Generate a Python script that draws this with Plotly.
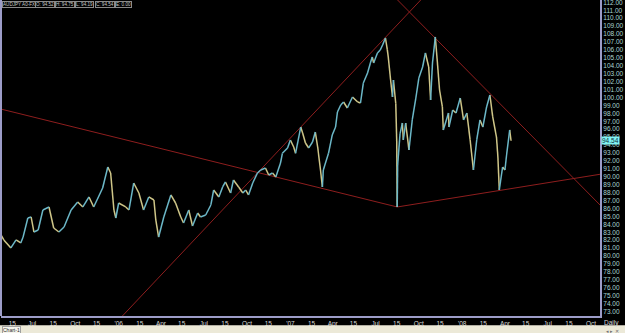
import plotly.graph_objects as go

# ---------------- data ----------------
dates = [
    "2005-04-26", "2005-05-02", "2005-05-17", "2005-05-28", "2005-06-07", "2005-06-12",
    "2005-06-22", "2005-06-29", "2005-07-05", "2005-07-14", "2005-07-24", "2005-08-06",
    "2005-08-16", "2005-08-27", "2005-09-07", "2005-09-22", "2005-10-06", "2005-10-17",
    "2005-10-30", "2005-11-09", "2005-11-28", "2005-12-09", "2005-12-15", "2005-12-22",
    "2005-12-26", "2006-01-01", "2006-01-16", "2006-01-23", "2006-02-02", "2006-02-13",
    "2006-02-23", "2006-03-06", "2006-03-17", "2006-03-21", "2006-03-27", "2006-04-07",
    "2006-04-22", "2006-05-02", "2006-05-13", "2006-05-19", "2006-05-30", "2006-06-07",
    "2006-06-18", "2006-06-24", "2006-07-05", "2006-07-16", "2006-07-22", "2006-08-02",
    "2006-08-10", "2006-08-16", "2006-08-27", "2006-09-02", "2006-09-13", "2006-09-22",
    "2006-09-28", "2006-10-04", "2006-10-13", "2006-10-23", "2006-10-30", "2006-11-09",
    "2006-11-16", "2006-11-24", "2006-12-01", "2006-12-11", "2006-12-15", "2006-12-26",
    "2007-01-01", "2007-01-08", "2007-01-12", "2007-01-23", "2007-01-27", "2007-02-02",
    "2007-02-09", "2007-02-17", "2007-02-23", "2007-02-28", "2007-03-06", "2007-03-10",
    "2007-03-12", "2007-03-23", "2007-03-31", "2007-04-07", "2007-04-11", "2007-04-18",
    "2007-04-24", "2007-05-02", "2007-05-13", "2007-05-24", "2007-05-30", "2007-06-05",
    "2007-06-14", "2007-06-20", "2007-06-24", "2007-06-27", "2007-07-05", "2007-07-11",
    "2007-07-16", "2007-07-22", "2007-07-26", "2007-07-28", "2007-08-02", "2007-08-06",
    "2007-08-08", "2007-08-13", "2007-08-15", "2007-08-16", "2007-08-17", "2007-08-22",
    "2007-08-27", "2007-08-29", "2007-09-03", "2007-09-10", "2007-09-17", "2007-09-24",
    "2007-10-01", "2007-10-09", "2007-10-15", "2007-10-22", "2007-10-26", "2007-10-30",
    "2007-11-05", "2007-11-09", "2007-11-14", "2007-11-20", "2007-11-22", "2007-12-03",
    "2007-12-04", "2007-12-12", "2007-12-19", "2007-12-28", "2008-01-04", "2008-01-11",
    "2008-01-18", "2008-01-25", "2008-02-01", "2008-02-08", "2008-02-14", "2008-02-22",
    "2008-02-29", "2008-03-06", "2008-03-14", "2008-03-17", "2008-03-20", "2008-03-27",
    "2008-04-01", "2008-04-04", "2008-04-11", "2008-04-14",
]
closes = [
    82.66, 82.03, 81.02, 82.03, 81.65, 82.40,
    84.80, 84.93, 83.03, 83.29, 85.81, 86.19,
    83.54, 83.03, 83.66, 85.81, 86.82, 86.19,
    87.45, 86.19, 88.58, 91.23, 90.47, 85.81,
    84.80, 86.69, 86.19, 85.81, 89.21, 87.95,
    85.81, 87.45, 87.07, 84.55, 82.40, 84.93,
    87.70, 86.69, 84.93, 84.17, 85.81, 83.79,
    85.43, 84.93, 85.18, 86.44, 88.33, 87.45,
    88.71, 89.34, 87.95, 89.59, 88.71, 87.95,
    88.33, 87.70, 89.21, 90.47, 90.85, 91.10,
    90.22, 90.47, 89.97, 91.73, 92.96, 93.63,
    94.64, 93.75, 92.96, 96.27, 95.52, 94.26,
    93.63, 94.38, 95.64, 93.75, 90.85, 88.71,
    90.85, 92.96, 95.27, 96.27, 98.17, 99.05,
    99.43, 98.67, 100.06, 99.43, 99.30, 101.82,
    103.08, 104.35, 105.10, 104.35, 105.61, 105.99,
    106.62, 107.50, 105.99, 105.10, 102.20, 100.06,
    102.20, 99.20, 94.50, 86.19, 91.50, 95.40,
    96.78, 94.64, 96.78, 93.37, 97.16, 99.68,
    102.45, 103.84, 105.61, 103.84, 99.68, 104.35,
    107.63, 104.72, 100.94, 98.80, 95.90, 98.04,
    96.27, 98.42, 98.04, 99.93, 97.16, 98.04,
    94.64, 90.85, 94.64, 97.16, 96.27, 98.80,
    100.31, 97.54, 95.01, 92.49, 88.33, 91.23,
    90.85, 92.49, 95.90, 94.54,
]

# trend lines (date, price) end points
trend_left_x = ["2005-04-01", "2007-08-16"]
trend_left_y = [98.90, 86.19]
trend_right_x = ["2007-08-16", "2008-11-15"]
trend_right_y = [86.19, 90.56]
trend_up_x = ["2005-12-01", "2007-10-15"]
trend_up_y = [69.99, 112.92]
trend_down_x = ["2007-08-10", "2008-11-10"]
trend_down_y = [112.70, 85.18]

# axis ticks
x_tickvals = [
    "2005-05-20", "2005-07-01", "2005-08-15", "2005-10-01", "2005-11-15",
    "2006-01-01", "2006-02-15", "2006-04-01", "2006-05-15", "2006-07-01", "2006-08-15", "2006-10-01", "2006-11-15",
    "2007-01-01", "2007-02-15", "2007-04-01", "2007-05-15", "2007-07-01", "2007-08-15", "2007-10-01", "2007-11-15",
    "2008-01-01", "2008-02-15", "2008-04-01", "2008-05-15", "2008-07-01", "2008-08-15", "2008-10-01",
]
x_ticktext = [
    "15", "Jul", "15", "Oct", "15",
    "'06", "15", "Apr", "15", "Jul", "15", "Oct", "15",
    "'07", "15", "Apr", "15", "Jul", "15", "Oct", "15",
    "'08", "15", "Apr", "15", "Jul", "15", "Oct",
]
y_tickvals = list(range(73, 113))
y_ticktext = [f"{v:.2f}" for v in y_tickvals]

last_price = 94.54
header_texts = ["AUDJPY A0-FX", "O: 94.52", "H: 94.75", "L: 94.19", "C: 94.54", "E: 0.00"]
header_px = [2, 35, 55, 75, 95, 115]

# ---------------- styles ----------------
UP = "#6cb8c8"
DOWN = "#cfc688"
TREND = "#8e1e1e"
FRAME = "#9c9cc8"
FONT = "Liberation Sans"
PLOT_L, PLOT_W = 1, 599

fig = go.Figure()

# split series into up / down segments
ux, uy, dx, dy = [], [], [], []
for i in range(len(closes) - 1):
    if closes[i + 1] >= closes[i]:
        ux += [dates[i], dates[i + 1], None]
        uy += [closes[i], closes[i + 1], None]
    else:
        dx += [dates[i], dates[i + 1], None]
        dy += [closes[i], closes[i + 1], None]

for tx, ty in [(trend_left_x, trend_left_y), (trend_right_x, trend_right_y),
               (trend_up_x, trend_up_y), (trend_down_x, trend_down_y)]:
    fig.add_trace(go.Scatter(x=tx, y=ty, mode="lines",
                             line=dict(color=TREND, width=1), hoverinfo="skip"))

fig.add_trace(go.Scatter(x=dx, y=dy, mode="lines", line=dict(color=DOWN, width=1.5)))
fig.add_trace(go.Scatter(x=ux, y=uy, mode="lines", line=dict(color=UP, width=1.5)))

fig.update_layout(
    width=625, height=333,
    margin=dict(l=PLOT_L, r=25, t=0, b=17),
    paper_bgcolor="black", plot_bgcolor="black",
    showlegend=False,
    font=dict(family=FONT, size=7, color="#d0d0d0"),
    xaxis=dict(
        type="date", range=["2005-04-26", "2008-10-20"],
        tickvals=x_tickvals, ticktext=x_ticktext,
        tickfont=dict(size=6.5, color="#d8d8d8", family=FONT),
        showgrid=False, zeroline=False, ticks="",
        showline=True, linecolor=FRAME, linewidth=2,
        automargin=False, fixedrange=True,
    ),
    yaxis=dict(
        side="right", range=[72.44, 112.29],
        tickvals=y_tickvals, ticktext=y_ticktext,
        tickfont=dict(size=6.5, color="#a8d4d4", family=FONT),
        showgrid=False, zeroline=False, ticks="",
        showline=True, linecolor=FRAME, linewidth=2,
        automargin=False, fixedrange=True, ticklabeloverflow="allow",
    ),
)

# left frame line
fig.add_shape(type="line", xref="paper", yref="paper", x0=0, x1=0, y0=0, y1=1,
              line=dict(color=FRAME, width=2))
# bottom status strip
fig.add_shape(type="rect", xref="paper", yref="paper", x0=-0.01, x1=1.05,
              y0=-0.056, y1=-0.029, fillcolor="#ece9d8", line=dict(width=0), layer="above")

# last price marker
fig.add_annotation(xref="paper", yref="y", x=1, y=last_price, xanchor="left", xshift=1,
                   text=f"{last_price:.2f}", showarrow=False, bgcolor="#80f4f4",
                   font=dict(size=6.5, color="#103040", family=FONT), borderpad=0)
# "Daily"
fig.add_annotation(xref="paper", yref="paper", x=1.004, y=-0.003, xanchor="left", yanchor="top",
                   text="Daily", showarrow=False, font=dict(size=6.5, color="#d8d8d8", family=FONT))

# header boxes
for t, px in zip(header_texts, header_px):
    fig.add_annotation(xref="paper", yref="paper", x=(px - PLOT_L) / PLOT_W, y=0.996,
                       xanchor="left", yanchor="top",
                       text=t, showarrow=False, bgcolor="black", bordercolor="#8a8a8a",
                       borderwidth=1, borderpad=0,
                       font=dict(size=4.6, color="#c8c8c8", family=FONT))

# tab + controls in the status strip
fig.add_annotation(xref="paper", yref="paper", x=0.001, y=-0.031, xanchor="left", yanchor="top",
                   text="Chart-1", showarrow=False, bgcolor="#f6f4ec", bordercolor="#a0a0a0",
                   borderwidth=1, borderpad=0, font=dict(size=5, color="#303030", family=FONT))
fig.add_annotation(xref="paper", yref="paper", x=1.035, y=-0.031, xanchor="right", yanchor="top",
                   text="◂ ▸ ✕", showarrow=False, font=dict(size=5, color="#707070", family=FONT))

fig.write_html("out.html")
